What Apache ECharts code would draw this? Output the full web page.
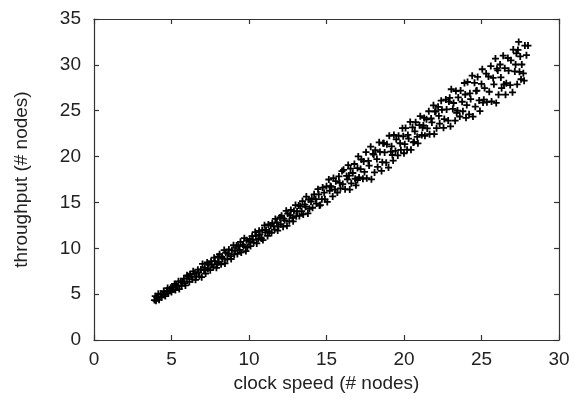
<!DOCTYPE html>
<html>
<head>
<meta charset="utf-8">
<script src="https://cdn.jsdelivr.net/npm/echarts@6/dist/echarts.min.js"></script>
<style>
html,body{margin:0;padding:0;background:#fff;}
#chart{width:574px;height:405px;}
</style>
</head>
<body>
<div id="chart"></div>
<script>
const xTicks = [0, 5, 10, 15, 20, 25, 30];
const yTicks = [0, 5, 10, 15, 20, 25, 30, 35];
const xTitle = 'clock speed (# nodes)';
const yTitle = 'throughput (# nodes)';

const clockSpeed = [
  3.9,3.95,4.0,4.05,4.1,4.15,4.2,4.3,4.35,4.4,4.5,4.55,4.6,4.7,4.75,4.8,4.9,4.95,5.0,5.05,5.1,5.2,5.25,5.3,5.4,5.45,5.5,5.6,5.65,5.7,5.8,5.85,5.9,6.0,6.0,
  6.1,6.15,6.2,6.3,6.35,6.4,6.5,6.55,6.6,6.7,6.75,6.8,6.9,6.95,7.0,7.1,7.15,7.2,7.3,7.35,7.4,7.5,7.55,7.6,7.7,7.75,7.8,7.9,7.95,8.0,
  8.05,8.1,8.2,8.25,8.3,8.4,8.45,8.5,8.6,8.65,8.7,8.8,8.85,8.9,9.0,9.05,9.1,9.2,9.25,9.3,9.4,9.45,9.5,9.6,9.65,9.7,9.8,9.85,9.9,10.0,
  10.05,10.1,10.2,10.25,10.3,10.4,10.45,10.5,10.6,10.65,10.7,10.8,10.85,10.9,11.0,11.05,11.1,11.2,11.25,11.3,11.4,11.45,11.5,11.6,11.65,11.7,11.8,11.85,11.9,12.0,
  12.05,12.1,12.2,12.25,12.3,12.4,12.45,12.5,12.6,12.65,12.7,12.8,12.85,12.9,13.0,13.05,13.1,13.2,13.25,13.3,13.4,13.45,13.5,13.6,13.65,13.7,13.8,13.85,13.9,14.0,
  14.05,14.1,14.2,14.3,14.35,14.45,14.5,14.6,14.7,14.75,14.85,14.9,15.0,15.05,15.15,15.2,15.3,15.4,15.45,15.55,15.6,15.7,15.8,15.85,15.9,16.0,15.25,14.55,
  16.05,16.1,16.2,16.3,16.35,16.4,16.5,16.55,16.6,16.7,16.8,16.85,16.9,17.0,17.05,17.1,17.2,17.25,17.35,17.4,17.45,17.55,17.6,17.7,17.75,17.85,17.9,18.0,17.0,16.45,
  18.05,18.1,18.15,18.25,18.3,18.4,18.45,18.55,18.6,18.7,18.75,18.85,18.9,19.0,19.05,19.15,19.2,19.3,19.35,19.45,19.5,19.6,19.65,19.75,19.8,19.9,19.95,20.0,19.25,18.65,
  20.05,20.1,20.2,20.25,20.3,20.4,20.45,20.55,20.6,20.7,20.75,20.85,20.9,21.0,21.05,21.15,21.2,21.3,21.35,21.45,21.5,21.6,21.65,21.75,21.8,21.9,21.95,22.0,20.65,21.25,
  22.05,22.1,22.2,22.25,22.3,22.4,22.45,22.55,22.6,22.7,22.75,22.85,22.9,23.0,23.05,23.15,23.2,23.3,23.35,23.45,23.5,23.6,23.65,23.75,23.8,23.9,23.95,24.0,23.4,22.95,
  24.05,24.1,24.2,24.25,24.3,24.4,24.45,24.55,24.6,24.7,24.75,24.85,24.9,25.0,25.05,25.15,25.2,25.3,25.35,25.45,25.5,25.6,25.65,25.75,25.8,25.9,25.95,26.0,25.1,24.65,
  26.05,26.1,26.2,26.25,26.3,26.4,26.5,26.55,26.6,26.7,26.75,26.85,26.9,27.0,27.05,27.15,27.2,27.3,27.35,27.45,27.5,27.55,27.4,27.6,27.7,27.8,27.9,27.75,26.45,27.25,28.0
];
const throughput = [
  4.35,4.78,4.27,4.67,4.62,5.05,4.4,5.03,4.64,4.94,5.33,4.94,4.79,5.37,5.66,5.1,5.4,5.69,5.24,5.78,5.52,6.11,5.44,5.94,5.86,6.4,5.55,6.4,5.9,6.3,6.7,6.2,5.95,6.72,7.05,
  6.94,6.33,7.16,6.9,6.6,7.49,7.23,6.56,6.91,7.67,7.36,6.94,7.7,6.85,8.3,7.63,7.89,7.24,8.46,7.74,8.28,7.61,8.57,8.2,7.95,8.98,8.61,7.87,8.27,9.09,
  8.48,9.35,8.25,9.05,8.88,9.8,8.35,9.53,8.8,9.38,9.88,9.15,8.83,9.78,10.33,9.33,9.75,10.3,9.38,10.25,9.83,10.7,9.55,10.4,10.23,11.1,9.7,10.88,10.1,10.73,
  11.01,10.24,11.32,10.93,10.61,11.77,11.38,10.53,11.01,11.9,11.5,11.08,11.97,10.89,12.5,11.73,12.0,11.35,12.6,11.83,12.49,11.68,12.74,12.38,12.04,13.2,12.83,11.93,12.38,13.36,
  12.61,13.55,12.36,13.24,13.05,14.08,12.45,13.78,12.94,13.6,14.18,13.33,12.94,14.06,14.71,13.5,14.01,14.67,13.53,14.6,14.06,15.15,13.69,14.75,14.52,15.64,13.8,15.32,14.3,15.1,
  15.45,14.42,15.88,15.35,14.88,16.45,15.87,14.71,15.36,16.62,16.06,15.34,16.76,15.05,17.5,16.26,16.71,15.65,17.65,16.41,17.32,16.08,17.84,17.13,16.54,18.42,16.78,14.66,
  17.0,18.56,16.44,17.89,17.52,19.07,16.4,18.69,17.08,18.21,19.19,17.58,16.87,18.75,20.02,17.72,18.64,19.68,17.58,19.47,18.33,20.48,17.64,19.52,19.02,21.08,17.52,20.3,17.44,17.93,
  20.22,18.27,20.7,19.73,18.87,21.55,20.51,18.44,19.39,21.46,20.45,19.33,21.34,18.8,22.27,20.54,21.12,19.56,22.35,20.62,21.88,20.12,22.27,21.45,20.72,23.1,22.21,20.36,20.17,21.44,
  21.35,23.11,20.75,22.36,21.96,23.78,20.74,23.19,21.54,22.75,23.74,22.15,21.44,23.42,24.41,22.35,23.17,24.21,22.26,24.07,23.07,24.94,22.44,24.15,23.72,25.59,22.45,24.9,21.6,23.39,
  24.96,23.1,25.42,24.43,23.6,26.1,25.1,23.13,24.09,26.21,25.14,23.92,26.0,23.3,27.34,25.2,25.84,23.91,27.15,25.02,26.45,24.37,27.2,25.98,24.94,28.02,26.77,24.22,24.78,26.41,
  25.62,28.13,24.61,26.9,26.27,28.82,24.36,28.04,25.44,27.2,28.68,26.12,24.96,27.92,29.52,26.2,27.47,29.05,25.93,28.73,27.07,29.87,26.01,28.57,27.88,30.69,25.85,29.58,25.89,27.16,
  29.39,26.75,30.04,28.63,27.46,31.0,29.64,26.75,28.0,30.75,29.37,27.8,30.49,27.0,31.67,29.28,30.04,27.88,31.63,29.24,30.92,28.43,32.5,30.04,29.08,32.1,31.06,28.27,27.87,31.26,32.1
];

const data = clockSpeed.map((x, i) => [x, throughput[i]]);

const font = "'Liberation Sans', Arial, sans-serif";
const axisColor = '#333';
const textColor = '#222';

function xAx(pos, show) {
  return {
    type: 'value', position: pos,
    min: xTicks[0], max: xTicks[xTicks.length - 1], interval: 5,
    name: show ? xTitle : '', nameLocation: 'middle', nameGap: 34,
    nameTextStyle: { fontFamily: font, fontSize: 19, color: textColor },
    axisLine: { show: true, onZero: false, lineStyle: { color: axisColor, width: 1.2 } },
    axisTick: { show: true, inside: true, length: 5, lineStyle: { color: axisColor, width: 1.2 } },
    axisLabel: { show: show, margin: 10, fontFamily: font, fontSize: 19, color: textColor },
    splitLine: { show: false }
  };
}
function yAx(pos, show) {
  return {
    type: 'value', position: pos,
    min: yTicks[0], max: yTicks[yTicks.length - 1], interval: 5,
    name: show ? yTitle : '', nameLocation: 'middle', nameGap: 63,
    nameTextStyle: { fontFamily: font, fontSize: 19, color: textColor },
    axisLine: { show: true, onZero: false, lineStyle: { color: axisColor, width: 1.2 } },
    axisTick: { show: true, inside: true, length: 5, lineStyle: { color: axisColor, width: 1.2 } },
    axisLabel: { show: show, margin: 13, fontFamily: font, fontSize: 19, color: textColor },
    splitLine: { show: false }
  };
}

const chart = echarts.init(document.getElementById('chart'), null, { renderer: 'canvas' });
chart.setOption({
  animation: false,
  backgroundColor: '#fff',
  grid: { left: 94, right: 15, top: 19, bottom: 65, containLabel: false },
  xAxis: [xAx('bottom', true), xAx('top', false)],
  yAxis: [yAx('left', true), yAx('right', false)],
  series: [{
    type: 'scatter',
    xAxisIndex: 0, yAxisIndex: 0,
    data: data,
    symbol: 'path://M0,2.6H2.6V0H4.4V2.6H7V4.4H4.4V7H2.6V4.4H0Z',
    symbolSize: 7,
    itemStyle: { color: '#000', opacity: 1 }
  }]
});
</script>
</body>
</html>
